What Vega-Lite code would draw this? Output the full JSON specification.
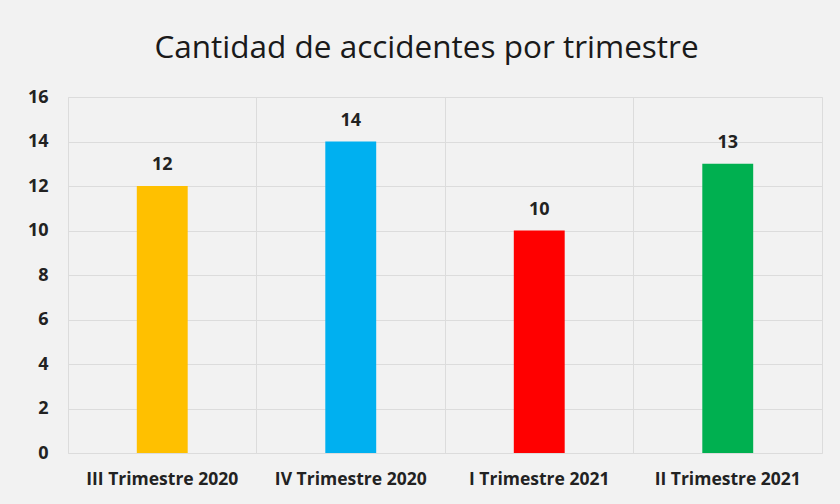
{
  "$schema": "https://vega.github.io/schema/vega-lite/v6.json",
  "width": 754,
  "height": 356,
  "autosize": "none",
  "padding": {"left": 68, "top": 97, "right": 18, "bottom": 51},
  "background": "#f2f2f2",
  "title": {
    "text": "Cantidad de accidentes por trimestre",
    "fontSize": 31.5,
    "font": "Open Sans",
    "fontWeight": "normal",
    "color": "#1a1a1a",
    "anchor": "start",
    "dx": 127,
    "offset": 24
  },
  "data": {
    "values": [
      {"trimestre": "III Trimestre 2020", "accidentes": 12, "color": "#FFC000"},
      {"trimestre": "IV Trimestre 2020", "accidentes": 14, "color": "#00B0F0"},
      {"trimestre": "I Trimestre 2021", "accidentes": 10, "color": "#FF0000"},
      {"trimestre": "II Trimestre 2021", "accidentes": 13, "color": "#00B050"}
    ]
  },
  "config": {
    "view": {"stroke": "#dcdcdc", "strokeWidth": 1},
    "axis": {"gridColor": "#dcdcdc", "gridWidth": 1}
  },
  "encoding": {
    "x": {
      "field": "trimestre",
      "type": "nominal",
      "sort": null,
      "scale": {"paddingInner": 0, "paddingOuter": 0},
      "axis": {
        "title": null,
        "labelAngle": 0,
        "domain": false,
        "ticks": false,
        "grid": true,
        "bandPosition": 0,
        "labelFont": "Open Sans",
        "labelFontSize": 17.5,
        "labelFontWeight": "bold",
        "labelColor": "#222222",
        "labelPadding": 17
      }
    },
    "y": {
      "field": "accidentes",
      "type": "quantitative",
      "scale": {"domain": [0, 16]},
      "axis": {
        "title": null,
        "values": [0, 2, 4, 6, 8, 10, 12, 14, 16],
        "domain": false,
        "ticks": false,
        "labelFont": "Open Sans",
        "labelFontSize": 18,
        "labelFontWeight": "bold",
        "labelColor": "#222222",
        "labelPadding": 20
      }
    }
  },
  "layer": [
    {
      "mark": {"type": "bar", "width": {"band": 0.27}},
      "encoding": {
        "color": {"field": "color", "type": "nominal", "scale": null, "legend": null}
      }
    },
    {
      "mark": {
        "type": "text",
        "baseline": "bottom",
        "dy": -12,
        "font": "Open Sans",
        "fontSize": 18,
        "fontWeight": "bold",
        "color": "#222222"
      },
      "encoding": {"text": {"field": "accidentes", "type": "quantitative"}}
    }
  ]
}
